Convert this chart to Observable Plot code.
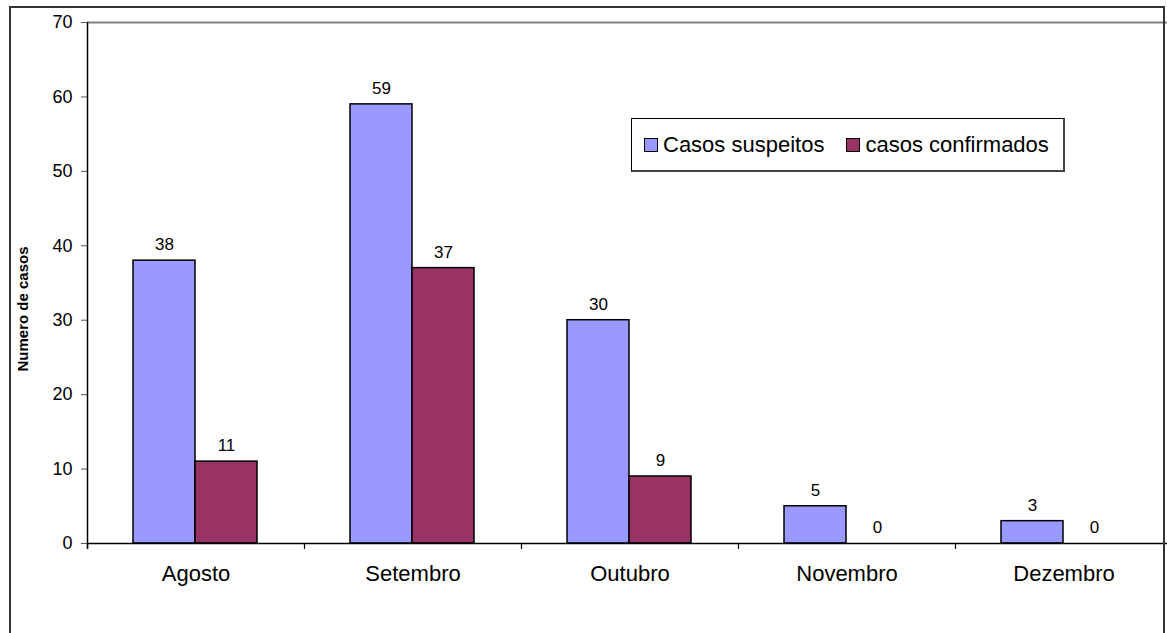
<!DOCTYPE html>
<html>
<head>
<meta charset="utf-8">
<script src="https://cdn.jsdelivr.net/npm/d3@7"></script>
<script src="https://cdn.jsdelivr.net/npm/@observablehq/plot@0.6"></script>
<style>
  html, body { margin: 0; padding: 0; background: #fff; }
  #wrap { position: relative; width: 1167px; height: 633px; overflow: hidden; font-family: "Liberation Sans", Arial, sans-serif; }
  #border { position: absolute; left: 9px; top: 6px; width: 1156px; height: 640px; border: 2px solid #333; box-sizing: border-box; pointer-events: none; }
  #legend { position: absolute; left: 631px; top: 118px; width: 434px; height: 54px; box-sizing: border-box;
            border: 1px solid #000; border-right: 2px solid #444; border-bottom: 2px solid #444; background: #fff;
            display: flex; align-items: center; padding-left: 12px; font-size: 22px; color: #000; white-space: nowrap; }
  .item { display: flex; align-items: center; margin-right: 22px; flex: 0 0 auto; }
  .sw { width: 14px; height: 14px; border: 1px solid #000; margin-right: 5px; box-sizing: border-box; flex: 0 0 auto; }
</style>
</head>
<body>
<div id="wrap"></div>
<script>
const months = ["Agosto", "Setembro", "Outubro", "Novembro", "Dezembro"];
const suspeitos = [38, 59, 30, 5, 3];
const confirmados = [11, 37, 9, 0, 0];
const seriesNames = ["Casos suspeitos", "casos confirmados"];
const seriesColors = ["#9999FF", "#993366"];
const yTicks = [0, 10, 20, 30, 40, 50, 60, 70];
const yLabel = "Numero de casos";

const rows = months.map((m, i) => ({month: m, sus: suspeitos[i], conf: confirmados[i]}));

const xRange = [87, 1172];
const bw = (xRange[1] - xRange[0]) / months.length;
const barW = 62;
const gapL = 46;

const plot = Plot.plot({
  width: 1167,
  height: 633,
  marginTop: 22,
  marginBottom: 90,
  marginLeft: 87,
  marginRight: 0,
  style: {fontFamily: "'Liberation Sans', Arial, sans-serif", color: "#000", background: "transparent"},
  x: {domain: months, range: xRange, padding: 0, axis: null},
  y: {domain: [0, 70]},
  marks: [
    Plot.ruleY([70], {stroke: "#808080", strokeWidth: 2}),
    Plot.barY(rows.filter(d => d.sus > 0), {x: "month", y: "sus", fill: seriesColors[0], stroke: "#000", strokeWidth: 1.5,
      insetLeft: gapL, insetRight: bw - gapL - barW}),
    Plot.barY(rows.filter(d => d.conf > 0), {x: "month", y: "conf", fill: seriesColors[1], stroke: "#000", strokeWidth: 1.5,
      insetLeft: gapL + barW, insetRight: bw - gapL - 2 * barW}),
    Plot.ruleY([0], {stroke: "#000", strokeWidth: 1.5}),
    Plot.ruleX(months, {x: d => d, dx: -bw / 2, y1: 0, y2: -0.8, stroke: "#000", strokeWidth: 1.2}),
    Plot.ruleX([months[0]], {dx: -bw / 2, y1: -0.8, y2: 70, stroke: "#000", strokeWidth: 1.5}),
    Plot.axisY(yTicks, {tickSize: 6, tickPadding: 9, fontSize: 18, label: null, stroke: "#555"}),
    Plot.text(rows, {x: "month", y: "sus", text: d => String(d.sus), dx: gapL + barW / 2 - bw / 2, dy: -16, fontSize: 17, fill: "#000"}),
    Plot.text(rows, {x: "month", y: "conf", text: d => String(d.conf), dx: gapL + 1.5 * barW - bw / 2, dy: -16, fontSize: 17, fill: "#000"}),
    Plot.text(months, {x: d => d, y: 0, text: d => d, dy: 30, fontSize: 22, fill: "#000"}),
    Plot.text([yLabel], {frameAnchor: "left", textAnchor: "middle", text: d => d, rotate: -90, dx: -64, dy: 26, fontSize: 15, fontWeight: "bold", fill: "#000"})
  ]
});

const wrap = document.getElementById("wrap");
wrap.appendChild(plot);
const border = document.createElement("div");
border.id = "border";
wrap.appendChild(border);

const legend = document.createElement("div");
legend.id = "legend";
seriesNames.forEach((name, i) => {
  const item = document.createElement("div");
  item.className = "item";
  const sw = document.createElement("div");
  sw.className = "sw";
  sw.style.background = seriesColors[i];
  const t = document.createElement("span");
  t.textContent = name;
  item.appendChild(sw);
  item.appendChild(t);
  legend.appendChild(item);
});
wrap.appendChild(legend);
</script>
</body>
</html>
